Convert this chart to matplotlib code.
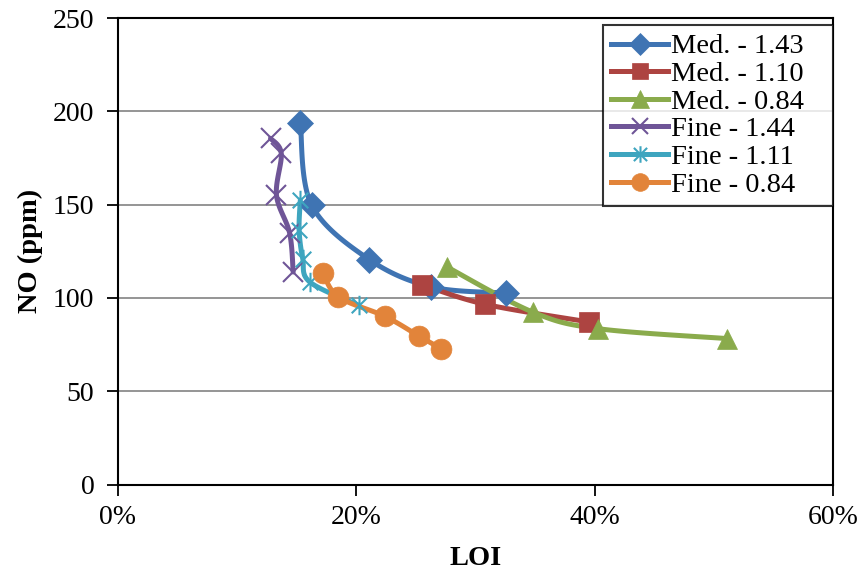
import numpy as np
import matplotlib
matplotlib.use("Agg")
import matplotlib.pyplot as plt
from matplotlib.path import Path
from matplotlib.ticker import FuncFormatter, MultipleLocator

plt.rcParams['font.family'] = ['Liberation Serif', 'DejaVu Serif']

# LOI (%) and NO (ppm) for each coal size / stoichiometric ratio
med_143_loi = [15.3, 16.25, 21.1, 26.3, 32.6]
med_143_no = [193.5, 149.7, 120.5, 105.9, 102.6]

med_110_loi = [25.5, 30.8, 39.5]
med_110_no = [107.1, 96.6, 87.1]

med_084_loi = [27.6, 34.8, 40.3, 51.1]
med_084_no = [116.6, 92.4, 83.5, 78.2]

fine_144_loi = [12.8, 13.7, 13.3, 14.4, 14.7]
fine_144_no = [185.5, 177.4, 155.0, 134.8, 113.9]

fine_111_loi = [15.3, 15.2, 15.5, 16.1, 20.2]
fine_111_no = [152.4, 136.3, 121.1, 108.5, 96.0]

fine_084_loi = [17.2, 18.5, 22.4, 25.3, 27.1]
fine_084_no = [113.4, 100.5, 90.1, 79.4, 72.8]

labels = ["Med. - 1.43", "Med. - 1.10", "Med. - 0.84",
          "Fine - 1.44", "Fine - 1.11", "Fine - 0.84"]
series = [(med_143_loi, med_143_no), (med_110_loi, med_110_no),
          (med_084_loi, med_084_no), (fine_144_loi, fine_144_no),
          (fine_111_loi, fine_111_no), (fine_084_loi, fine_084_no)]
colors = ["#3f74b3", "#ad4441", "#8aab4c", "#6f5597", "#3ea5bf", "#e2843a"]

# asterisk marker: an "x" with a vertical stroke through it
asterisk = Path([(-1, -1), (1, 1), (-1, 1), (1, -1), (0, -1.25), (0, 1.25)],
                [Path.MOVETO, Path.LINETO, Path.MOVETO, Path.LINETO,
                 Path.MOVETO, Path.LINETO])
markers = ["D", "s", "^", "x", asterisk, "o"]
msizes = [13, 14, 15, 14, 14, 15]

fig = plt.figure(figsize=(8.65, 5.77), dpi=100)
ax = fig.add_axes([118 / 865, 1 - 484.5 / 577, (833 - 118) / 865, (484.5 - 18) / 577])
ax.set_xlim(0, 60)
ax.set_ylim(0, 250)


def smooth_path(xs, ys, n=30):
    """Bezier smoothing through the points, computed in display space."""
    pts = ax.transData.transform(np.column_stack([xs, ys]))
    if len(pts) < 3:
        return xs, ys
    out = [pts[0]]
    m = len(pts)
    t = np.linspace(0, 1, n)[1:, None]
    for i in range(m - 1):
        p0 = pts[i - 1] if i > 0 else pts[i]
        p1 = pts[i]
        p2 = pts[i + 1]
        p3 = pts[i + 2] if i + 2 < m else pts[i + 1]
        c1 = p1 + (p2 - p0) / 6.0
        c2 = p2 - (p3 - p1) / 6.0
        seg = ((1 - t) ** 3) * p1 + 3 * ((1 - t) ** 2) * t * c1 + 3 * (1 - t) * t ** 2 * c2 + t ** 3 * p2
        out.extend(seg)
    out = np.array(out)
    data = ax.transData.inverted().transform(out)
    return data[:, 0], data[:, 1]


for yv in [50, 100, 150, 200]:
    ax.axhline(yv, color="#8c8c8c", lw=1.3, zorder=0)

handles = []
for (xs, ys), lab, c, mk, ms in zip(series, labels, colors, markers, msizes):
    sx, sy = smooth_path(xs, ys)
    ax.plot(sx, sy, color=c, lw=3.6, solid_capstyle="round", zorder=2)
    stroke = isinstance(mk, Path) or mk == "x"
    mew = 1.5 if stroke else 0.5
    ax.plot(xs, ys, linestyle="none", marker=mk, markersize=ms, color=c,
            markeredgecolor=c, markeredgewidth=mew, zorder=3)
    h, = ax.plot([], [], color=c, lw=3.6, marker=mk, markersize=ms * 0.85,
                 markeredgecolor=c, markeredgewidth=mew, label=lab)
    handles.append(h)

ax.xaxis.set_major_locator(MultipleLocator(20))
ax.yaxis.set_major_locator(MultipleLocator(50))
ax.xaxis.set_major_formatter(FuncFormatter(lambda v, p: f"{v:.0f}%"))
ax.tick_params(axis="both", direction="out", length=8, width=1.3, labelsize=20, color="black")
ax.tick_params(axis="x", pad=7)
ax.tick_params(axis="y", pad=9)
for s in ax.spines.values():
    s.set_linewidth(1.5)
    s.set_color("black")

ax.set_xlabel("LOI", fontsize=20.5, fontweight="bold", labelpad=11)
ax.set_ylabel("NO (ppm)", fontsize=20.5, fontweight="bold", labelpad=7)

leg = ax.legend(handles=handles, loc="upper left",
                bbox_to_anchor=(0.678, 0.0, 0.322, 0.985), mode="expand",
                fontsize=20.5, frameon=True, fancybox=False, borderpad=0.3,
                labelspacing=0.06, handlelength=2.0, handletextpad=0.1,
                borderaxespad=0.0)
leg.get_frame().set_edgecolor("black")
leg.get_frame().set_linewidth(1.5)

fig.savefig("out.png", dpi=100)
